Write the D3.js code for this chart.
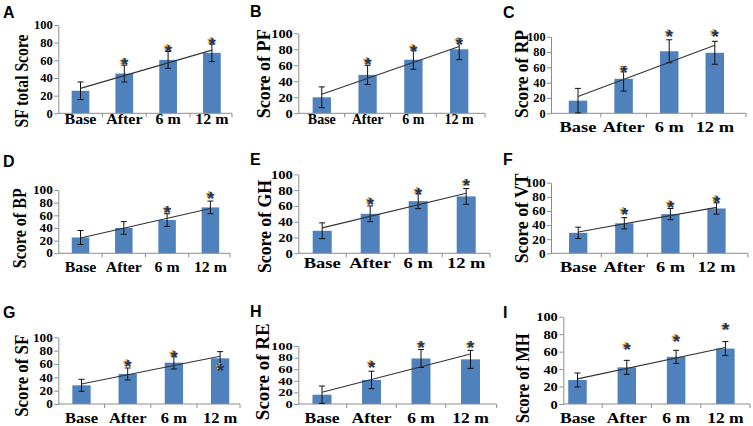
<!DOCTYPE html>
<html><head><meta charset="utf-8">
<script src="https://cdn.jsdelivr.net/npm/d3@7/dist/d3.min.js"></script>
<style>body{margin:0;background:#fff}svg{display:block}</style>
</head><body>
<svg id="chart" width="753" height="426"></svg>
<script>
// ---------------- data ----------------
const categories = ["Base", "After", "6 m", "12 m"];
const panelLetters = ["A", "B", "C", "D", "E", "F", "G", "H", "I"];
const yTitles = ["SF total Score", "Score of PF", "Score of RP", "Score of BP", "Score of GH",
                 "Score of VT", "Score of SF", "Score of RE", "Score of MH"];
const yTicks = [0, 20, 40, 60, 80, 100];

const sfTotalMean = [25.5, 45, 60.5, 68.5], sfTotalErr = [10, 9.5, 9.5, 10];
const pfMean = [20, 48, 67, 80],            pfErr = [13, 12, 12, 13];
const rpMean = [16.5, 45, 81, 79],          rpErr = [16, 16, 15, 15];
const bpMean = [25, 40, 52.5, 72.5],        bpErr = [11, 10, 10, 10];
const ghMean = [28.5, 50, 66, 72],          ghErr = [10, 10, 9.5, 10];
const vtMean = [29, 42.5, 55.5, 63.5],      vtErr = [8, 8, 8, 8];
const sfMean = [28, 45, 62, 68.5],          sfErr = [9, 9, 9.5, 10];
const reMean = [16, 41.5, 78.5, 77],        reErr = [15, 15, 15.5, 15.5];
const mhMean = [27.5, 42, 54, 63.5],        mhErr = [8, 8, 7.5, 8];

// significance asterisks: level (score units) where each "*" sits, null = none
const sfTotalStar = [null, 60, 75, 83];
const pfStar = [null, 66.7, 83, 92];
const rpStar = [null, 58.7, 106, 106];
const bpStar = [null, null, 71, 93.7];
const ghStar = [null, 68, 80, 91];
const vtStar = [null, 61, 71, 79];
const sfStar = [null, 63.5, 77, 57];
const reStar = [null, 71, 104.6, 104.6];
const mhStar = [null, 67.6, 77, 90];

const means = [sfTotalMean, pfMean, rpMean, bpMean, ghMean, vtMean, sfMean, reMean, mhMean];
const errs  = [sfTotalErr, pfErr, rpErr, bpErr, ghErr, vtErr, sfErr, reErr, mhErr];
const stars = [sfTotalStar, pfStar, rpStar, bpStar, ghStar, vtStar, sfStar, reStar, mhStar];

// ---------------- layout ----------------
const layouts = [
 {ax:58.3, axEnd:232, y0:113.3, y100:25,   c0:80.5,  step:43.8, bw:17.7, xlabY:124,   tickFs:12,   tickSx:1.05, xlabFs:14,   xlabSx:1.14, letter:[3,18],   ylabX:27.5,  ylabY:81,    ylabLen:93},
 {ax:298.3,axEnd:485, y0:113.3, y100:33.3, c0:321.8, step:45.8, bw:18.3, xlabY:124,   tickFs:12,   tickSx:1.2,  xlabFs:14,   xlabSx:1.0,  letter:[250,17], ylabX:269.5, ylabY:73.8,  ylabLen:89},
 {ax:551,  axEnd:746, y0:113.3, y100:36.7, c0:578,   step:45.6, bw:18.5, xlabY:131.7, tickFs:12,   tickSx:1.02, xlabFs:14.5, xlabSx:1.27, letter:[503,18], ylabX:527.7, ylabY:74,    ylabLen:88},
 {ax:58.3, axEnd:230, y0:253.3, y100:190,  c0:80.5,  step:43.3, bw:17.5, xlabY:271.7, tickFs:11.5, tickSx:1.15, xlabFs:14,   xlabSx:1.13, letter:[3,167],  ylabX:26,    ylabY:228.3, ylabLen:80},
 {ax:298.3,axEnd:490, y0:253.3, y100:174.3,c0:322.2, step:48,   bw:19,   xlabY:268.3, tickFs:12.5, tickSx:1.17, xlabFs:14,   xlabSx:1.32, letter:[250,165],ylabX:271,   ylabY:226.5, ylabLen:93},
 {ax:551,  axEnd:748, y0:253.3, y100:182.7,c0:578.2, step:46.1, bw:18.3, xlabY:271.7, tickFs:12,   tickSx:1.1,  xlabFs:14,   xlabSx:1.31, letter:[503,165],ylabX:527.7, ylabY:218.3, ylabLen:90},
 {ax:58.3, axEnd:240, y0:404,   y100:337.3,c0:81.5,  step:46.2, bw:18.3, xlabY:422.7, tickFs:12,   tickSx:1.1,  xlabFs:15,   xlabSx:1.1,  letter:[3,318],  ylabX:27.7,  ylabY:375.8, ylabLen:82},
 {ax:298.3,axEnd:496.7,y0:404,  y100:346,  c0:322,   step:49.5, bw:19,   xlabY:422.7, tickFs:10.5, tickSx:1.38, xlabFs:15,   xlabSx:1.17, letter:[250,317],ylabX:269.3, ylabY:371.7, ylabLen:97},
 {ax:563.3,axEnd:750, y0:404,   y100:316.7,c0:577.5, step:49.3, bw:18.5, xlabY:422.7, tickFs:13,   tickSx:1.11, xlabFs:15,   xlabSx:1.17, letter:[503,318],ylabX:529.3, ylabY:378.3, ylabLen:90}
];

const BAR = "#4f81bd", AXIS = "#8c8c8c", NAVY = "#1c355a", ORANGE = "#e3a23a";
const SERIF = "'Liberation Serif','Times New Roman',serif";
const SANS = "'Liberation Sans',Arial,sans-serif";

const svg = d3.select("#chart");

layouts.forEach((L, p) => {
  const g = svg.append("g");
  const m = means[p], e = errs[p], s = stars[p];
  const x = d3.scaleBand().domain(categories)
     .range([L.c0 - L.step / 2, L.c0 + 3.5 * L.step])
     .paddingInner(1 - L.bw / L.step).paddingOuter((1 - L.bw / L.step) / 2);
  const y = d3.scaleLinear().domain([0, 100]).range([L.y0, L.y100]);
  const cx = c => x(c) + x.bandwidth() / 2;

  // bars
  g.selectAll("rect.bar").data(categories).join("rect")
    .attr("x", c => x(c)).attr("width", x.bandwidth())
    .attr("y", (c, i) => y(m[i])).attr("height", (c, i) => y(0) - y(m[i]))
    .attr("fill", BAR);

  // y axis
  const yAx = g.append("g").attr("transform", `translate(${L.ax},0)`)
    .call(d3.axisLeft(y).tickValues(yTicks).tickSize(4).tickPadding(1).tickSizeOuter(0));
  yAx.select(".domain").attr("stroke", AXIS);
  yAx.selectAll(".tick line").attr("stroke", AXIS);
  yAx.selectAll(".tick text")
    .attr("font-family", SERIF).attr("font-weight", "bold").attr("font-size", L.tickFs)
    .attr("fill", "#000").attr("x", -5.5 / L.tickSx).attr("transform", `scale(${L.tickSx},1)`);

  // x axis line and boundary ticks
  g.append("line").attr("x1", L.ax).attr("x2", L.axEnd).attr("y1", y(0)).attr("y2", y(0))
    .attr("stroke", AXIS);
  const bounds = categories.slice(1).map(c => x(c) - x.step() * x.paddingInner() / 2).concat([L.axEnd]);
  g.selectAll("line.xt").data(bounds).join("line")
    .attr("x1", d => d).attr("x2", d => d).attr("y1", y(0)).attr("y2", y(0) + 4).attr("stroke", AXIS);

  // x labels
  g.selectAll("text.xl").data(categories).join("text")
    .attr("transform", c => `translate(${cx(c)},${L.xlabY}) scale(${L.xlabSx},1)`)
    .attr("text-anchor", "middle").attr("font-family", SERIF).attr("font-weight", "bold")
    .attr("font-size", L.xlabFs).attr("fill", "#000").text(c => c);

  // error bars
  categories.forEach((c, i) => {
    const xc = cx(c), t = y(m[i] + e[i]), b = y(m[i] - e[i]);
    g.append("line").attr("x1", xc).attr("x2", xc).attr("y1", t).attr("y2", b).attr("stroke", "#111");
    g.append("line").attr("x1", xc - 3).attr("x2", xc + 3).attr("y1", t).attr("y2", t).attr("stroke", "#111");
    g.append("line").attr("x1", xc - 3).attr("x2", xc + 3).attr("y1", b).attr("y2", b).attr("stroke", "#111");
  });

  // linear trend line (least squares fit of the means)
  const idx = d3.range(m.length), mx = d3.mean(idx), my = d3.mean(m);
  const slope = d3.sum(idx, i => (i - mx) * (m[i] - my)) / d3.sum(idx, i => (i - mx) ** 2);
  const icpt = my - slope * mx;
  const trend = [0, m.length - 1].map(i => [cx(categories[i]), y(icpt + slope * i)]);
  g.append("path").attr("d", d3.line()(trend)).attr("stroke", "#333").attr("stroke-width", 1.1).attr("fill", "none");

  // asterisks
  const fs = 19;
  categories.forEach((c, i) => {
    if (s[i] == null) return;
    const yc = y(s[i]) + 0.58 * fs;
    g.append("text").attr("x", cx(c) - 1).attr("y", yc - 0.8).attr("text-anchor", "middle")
      .attr("font-family", SANS).attr("font-weight", "bold").attr("font-size", fs).attr("fill", ORANGE).text("*");
    g.append("text").attr("x", cx(c) + 0.3).attr("y", yc).attr("text-anchor", "middle")
      .attr("font-family", SANS).attr("font-weight", "bold").attr("font-size", fs).attr("fill", NAVY).text("*");
  });

  // y title
  g.append("text").attr("transform", `translate(${L.ylabX},${L.ylabY}) rotate(-90)`)
    .attr("text-anchor", "middle").attr("font-family", SERIF).attr("font-weight", "bold")
    .attr("font-size", 19).attr("textLength", L.ylabLen).attr("lengthAdjust", "spacingAndGlyphs")
    .attr("fill", "#000").text(yTitles[p]);

  // panel letter
  g.append("text").attr("x", L.letter[0]).attr("y", L.letter[1])
    .attr("font-family", SANS).attr("font-weight", "bold").attr("font-size", 16)
    .attr("fill", "#000").text(panelLetters[p]);
});
</script>
</body></html>
